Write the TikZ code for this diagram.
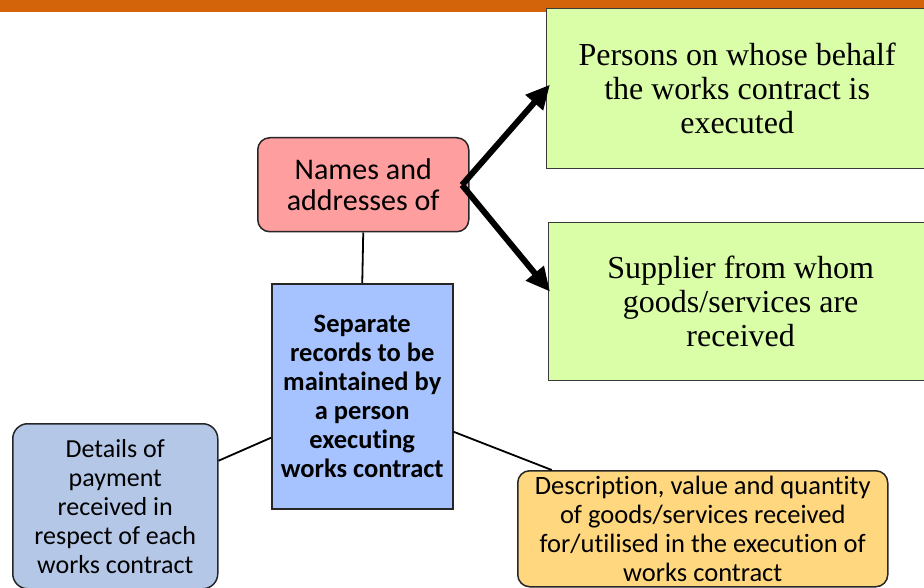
\documentclass[tikz,border=0pt]{standalone}
\usepackage{fontspec}
\setmainfont{Carlito}[Ligatures=NoCommon]
\newfontfamily\serifface{Liberation Serif}
\usetikzlibrary{arrows.meta,calc}
\definecolor{barorange}{HTML}{D4640A}
\definecolor{boxgreen}{HTML}{DAFDA8}
\definecolor{boxpink}{HTML}{FF9E9E}
\definecolor{boxblue}{HTML}{A6C3FF}
\definecolor{boxsteel}{HTML}{B4C7E7}
\definecolor{boxgold}{HTML}{FFD77F}
\definecolor{edgegray}{HTML}{3A3A3A}
\tikzset{
  greenbox/.style={draw=edgegray,line width=1.3pt,fill=boxgreen,anchor=north west,
    align=center,inner sep=0pt,font=\serifface\fontsize{32}{34}\selectfont},
  roundbox/.style={draw=black!85,line width=1.5pt,rounded corners=12pt,anchor=north west,
    align=center,inner sep=0pt},
  conn/.style={draw=black,line width=1.8pt},
  bigarrow/.style={draw=black,line width=6pt,-{Triangle[length=24pt,width=22pt]}}
}
\begin{document}
\begin{tikzpicture}[x=1pt,y=-1pt]
\useasboundingbox (0,0) rectangle (924,588);
\clip (0,0) rectangle (924,588);
\fill[barorange] (0,-2) rectangle (924,12);

\node[greenbox,minimum width=381pt,minimum height=160pt] (g1) at (546,8)
  {Persons on whose behalf\\the works contract is\\executed};
\node[greenbox,minimum width=384pt,minimum height=158pt] (g2) at (548,222)
  {Supplier from whom\\goods/services are\\received};

\node[roundbox,fill=boxpink,minimum width=211pt,minimum height=94pt,
  font=\fontsize{30}{31}\selectfont] (pink) at (257,137)
  {Names and\\addresses of};

\node[draw=black!85,line width=1.5pt,fill=boxblue,anchor=north west,align=center,
  inner sep=0pt,minimum width=181pt,minimum height=225pt,
  font=\bfseries\fontsize{26.5}{29}\selectfont] (blue) at (271,283)
  {Separate\\records to be\\maintained by\\a person\\executing\\works contract};

\node[roundbox,rounded corners=15pt,fill=boxsteel,minimum width=205pt,minimum height=165pt,
  font=\fontsize{26}{29}\selectfont] (left) at (12,423)
  {Details of\\payment\\received in\\respect of each\\works contract};

\node[roundbox,fill=boxgold,minimum width=370pt,minimum height=116pt,
  font=\fontsize{26.5}{29}\selectfont] (gold) at (517,470)
  {Description, value and quantity\\of goods/services received\\for/utilised in the execution of\\works contract};

\coordinate (fork) at (462,185);
\draw[bigarrow] (fork) -- ([shift={(4,-4)}]g1.west);
\draw[bigarrow] (fork) -- ([shift={(2,-10)}]g2.west);

\draw[conn] (pink.south) -- (blue.north);
\draw[conn] ([shift={(0,41.5)}]blue.west) -- ([shift={(0,-45.5)}]left.east);
\draw[conn] ([shift={(0,35.5)}]blue.east) -- ([shift={(-151,0)}]gold.north);
\end{tikzpicture}
\end{document}
